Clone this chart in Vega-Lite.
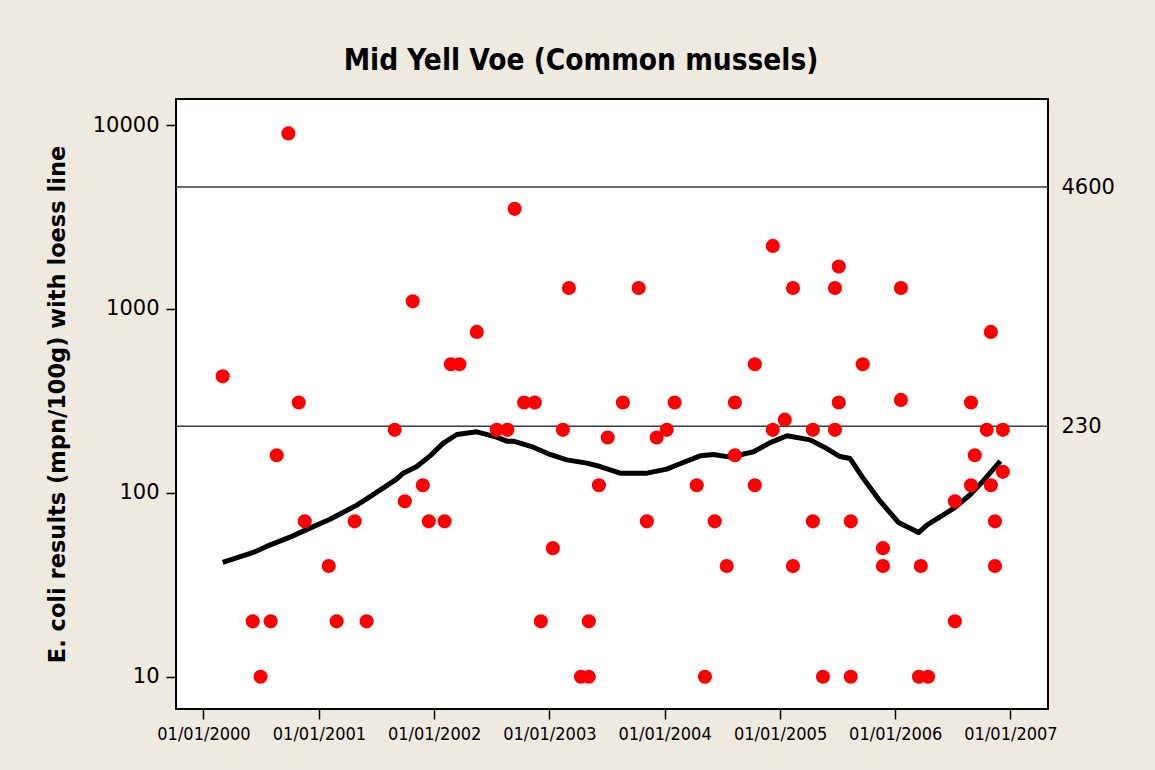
{
  "$schema": "https://vega.github.io/schema/vega-lite/v6.json",
  "width": 872,
  "height": 610,
  "autosize": "none",
  "padding": {"left": 176, "top": 99, "right": 107, "bottom": 61},
  "background": "#EEEAE0",
  "view": {"fill": "white", "stroke": "black", "strokeWidth": 2},
  "title": {
    "text": "Mid Yell Voe (Common mussels)",
    "font": "DejaVu Sans Condensed",
    "fontSize": 29.5,
    "fontWeight": "bold",
    "color": "black",
    "anchor": "middle",
    "frame": "group",
    "baseline": "alphabetic",
    "offset": 0,
    "dx": -31
  },
  "datasets": {
    "samples": [
      {"date": "2000-03-02", "value": 430},
      {"date": "2000-06-05", "value": 20},
      {"date": "2000-06-30", "value": 10},
      {"date": "2000-08-01", "value": 20},
      {"date": "2000-08-20", "value": 160},
      {"date": "2000-09-26", "value": 9000},
      {"date": "2000-10-29", "value": 310},
      {"date": "2000-11-17", "value": 70},
      {"date": "2001-02-01", "value": 40},
      {"date": "2001-02-26", "value": 20},
      {"date": "2001-04-24", "value": 70},
      {"date": "2001-06-01", "value": 20},
      {"date": "2001-08-29", "value": 220},
      {"date": "2001-09-30", "value": 90},
      {"date": "2001-10-25", "value": 1100},
      {"date": "2001-11-26", "value": 110},
      {"date": "2001-12-15", "value": 70},
      {"date": "2002-02-03", "value": 70},
      {"date": "2002-02-23", "value": 500},
      {"date": "2002-03-22", "value": 500},
      {"date": "2002-05-16", "value": 750},
      {"date": "2002-07-18", "value": 220},
      {"date": "2002-08-21", "value": 220},
      {"date": "2002-09-13", "value": 3500},
      {"date": "2002-10-13", "value": 310},
      {"date": "2002-11-16", "value": 310},
      {"date": "2002-12-05", "value": 20},
      {"date": "2003-01-12", "value": 50},
      {"date": "2003-02-13", "value": 220},
      {"date": "2003-03-04", "value": 1300},
      {"date": "2003-04-11", "value": 10},
      {"date": "2003-05-06", "value": 10},
      {"date": "2003-05-06", "value": 20},
      {"date": "2003-06-07", "value": 110},
      {"date": "2003-07-05", "value": 200},
      {"date": "2003-08-22", "value": 310},
      {"date": "2003-10-11", "value": 1300},
      {"date": "2003-11-06", "value": 70},
      {"date": "2003-12-07", "value": 200},
      {"date": "2004-01-08", "value": 220},
      {"date": "2004-02-02", "value": 310},
      {"date": "2004-04-12", "value": 110},
      {"date": "2004-05-08", "value": 10},
      {"date": "2004-06-08", "value": 70},
      {"date": "2004-07-16", "value": 40},
      {"date": "2004-08-11", "value": 310},
      {"date": "2004-08-11", "value": 160},
      {"date": "2004-10-13", "value": 500},
      {"date": "2004-10-13", "value": 110},
      {"date": "2004-12-09", "value": 2200},
      {"date": "2004-12-09", "value": 220},
      {"date": "2005-01-16", "value": 250},
      {"date": "2005-02-11", "value": 1300},
      {"date": "2005-02-11", "value": 40},
      {"date": "2005-04-15", "value": 220},
      {"date": "2005-04-15", "value": 70},
      {"date": "2005-05-17", "value": 10},
      {"date": "2005-06-24", "value": 1300},
      {"date": "2005-06-24", "value": 220},
      {"date": "2005-07-06", "value": 1700},
      {"date": "2005-07-06", "value": 310},
      {"date": "2005-08-13", "value": 70},
      {"date": "2005-08-13", "value": 10},
      {"date": "2005-09-20", "value": 500},
      {"date": "2005-11-23", "value": 50},
      {"date": "2005-11-23", "value": 40},
      {"date": "2006-01-19", "value": 1300},
      {"date": "2006-01-19", "value": 320},
      {"date": "2006-03-17", "value": 10},
      {"date": "2006-03-23", "value": 40},
      {"date": "2006-04-15", "value": 10},
      {"date": "2006-07-09", "value": 90},
      {"date": "2006-07-09", "value": 20},
      {"date": "2006-08-29", "value": 310},
      {"date": "2006-08-29", "value": 110},
      {"date": "2006-09-10", "value": 160},
      {"date": "2006-10-18", "value": 220},
      {"date": "2006-10-31", "value": 750},
      {"date": "2006-10-31", "value": 110},
      {"date": "2006-11-13", "value": 70},
      {"date": "2006-11-13", "value": 40},
      {"date": "2006-12-08", "value": 220},
      {"date": "2006-12-08", "value": 130}
    ],
    "loess": [
      {"date": "2000-03-02", "value": 41.8},
      {"date": "2000-06-07", "value": 47.4},
      {"date": "2000-07-19", "value": 51.1},
      {"date": "2000-10-01", "value": 57.4},
      {"date": "2000-11-12", "value": 61.9},
      {"date": "2001-02-05", "value": 71.9},
      {"date": "2001-05-01", "value": 85.7},
      {"date": "2001-06-12", "value": 95.4},
      {"date": "2001-09-04", "value": 118.6},
      {"date": "2001-09-25", "value": 127.9},
      {"date": "2001-11-07", "value": 139},
      {"date": "2001-12-19", "value": 158.9},
      {"date": "2002-01-30", "value": 186.2},
      {"date": "2002-03-14", "value": 207.5},
      {"date": "2002-05-16", "value": 214.6},
      {"date": "2002-07-18", "value": 200.7},
      {"date": "2002-08-19", "value": 190.9},
      {"date": "2002-09-09", "value": 190.9},
      {"date": "2002-11-11", "value": 177.1},
      {"date": "2003-01-03", "value": 161.6},
      {"date": "2003-02-25", "value": 151.1},
      {"date": "2003-04-30", "value": 145},
      {"date": "2003-06-11", "value": 139},
      {"date": "2003-08-13", "value": 127.9},
      {"date": "2003-11-06", "value": 127.9},
      {"date": "2004-01-08", "value": 134.5},
      {"date": "2004-02-19", "value": 143.8},
      {"date": "2004-04-23", "value": 158.9},
      {"date": "2004-06-04", "value": 161.6},
      {"date": "2004-07-27", "value": 156.3},
      {"date": "2004-10-09", "value": 167.1},
      {"date": "2004-12-01", "value": 187.6},
      {"date": "2005-01-23", "value": 204.2},
      {"date": "2005-04-06", "value": 194.1},
      {"date": "2005-05-29", "value": 174.1},
      {"date": "2005-07-10", "value": 157.5},
      {"date": "2005-08-11", "value": 153.6},
      {"date": "2005-09-22", "value": 119.6},
      {"date": "2005-11-14", "value": 90.1},
      {"date": "2006-01-11", "value": 69},
      {"date": "2006-03-16", "value": 60.8},
      {"date": "2006-04-11", "value": 66.7},
      {"date": "2006-07-05", "value": 82.2},
      {"date": "2006-08-27", "value": 97.9},
      {"date": "2006-10-08", "value": 116.7},
      {"date": "2006-11-30", "value": 148.6}
    ],
    "limits": [
      {"limit": 230},
      {"limit": 4600}
    ]
  },
  "resolve": {"scale": {"y": "independent"}},
  "layer": [
    {
      "data": {"name": "limits"},
      "mark": {"type": "rule", "stroke": "#3a3a3a", "strokeWidth": 1.5},
      "encoding": {
        "y": {
          "field": "limit",
          "type": "quantitative",
          "scale": {"type": "log", "domain": [6.675, 13850], "nice": false},
          "axis": {
            "orient": "right",
            "values": [230, 4600],
            "format": "d",
            "title": null,
            "domain": false,
            "ticks": false,
            "grid": false,
            "labelPadding": 13,
            "labelFont": "DejaVu Sans",
            "labelFontSize": 21,
            "labelColor": "black"
          }
        }
      }
    },
    {
      "data": {"name": "loess"},
      "mark": {"type": "line", "stroke": "black", "strokeWidth": 5, "strokeJoin": "round", "strokeCap": "butt"},
      "encoding": {
        "x": {"field": "date", "type": "temporal"},
        "y": {
          "field": "value",
          "type": "quantitative",
          "scale": {"type": "log", "domain": [6.675, 13850], "nice": false},
          "axis": null
        }
      }
    },
    {
      "data": {"name": "samples"},
      "mark": {"type": "circle", "size": 200, "color": "#FF0000", "opacity": 1},
      "encoding": {
        "x": {
          "field": "date",
          "type": "temporal",
          "scale": {
            "type": "utc",
            "domain": [
              {"year": 1999, "month": 10, "date": 6, "utc": true},
              {"year": 2007, "month": 4, "date": 30, "utc": true}
            ],
            "nice": false
          },
          "axis": {
            "title": null,
            "format": "%d/%m/%Y",
            "values": [
              {"year": 2000, "month": 1, "date": 1, "utc": true},
              {"year": 2001, "month": 1, "date": 1, "utc": true},
              {"year": 2002, "month": 1, "date": 1, "utc": true},
              {"year": 2003, "month": 1, "date": 1, "utc": true},
              {"year": 2004, "month": 1, "date": 1, "utc": true},
              {"year": 2005, "month": 1, "date": 1, "utc": true},
              {"year": 2006, "month": 1, "date": 1, "utc": true},
              {"year": 2007, "month": 1, "date": 1, "utc": true}
            ],
            "domain": false,
            "grid": false,
            "tickSize": 10,
            "tickColor": "black",
            "tickWidth": 1.5,
            "labelPadding": 6,
            "labelFont": "DejaVu Sans Condensed",
            "labelFontSize": 18,
            "labelColor": "black",
            "labelAngle": 0,
            "labelFlush": false,
            "labelOverlap": false
          }
        },
        "y": {
          "field": "value",
          "type": "quantitative",
          "scale": {"type": "log", "domain": [6.675, 13850], "nice": false},
          "axis": {
            "orient": "left",
            "values": [10, 100, 1000, 10000],
            "format": "d",
            "title": "E. coli results (mpn/100g) with loess line",
            "titleFont": "DejaVu Sans",
            "titleFontSize": 22.5,
            "titleFontWeight": "bold",
            "titleColor": "black",
            "titleAngle": -90,
            "titleBaseline": "middle",
            "titleAlign": "center",
            "titleX": -119,
            "titleY": 305,
            "domain": false,
            "grid": false,
            "tickSize": 10,
            "tickColor": "black",
            "tickWidth": 1.5,
            "labelPadding": 7,
            "labelFont": "DejaVu Sans",
            "labelFontSize": 21,
            "labelColor": "black"
          }
        }
      }
    }
  ]
}
